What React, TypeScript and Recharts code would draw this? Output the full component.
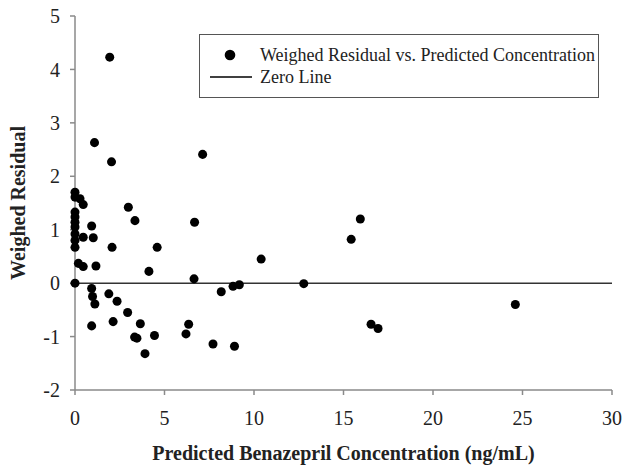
import { ScatterChart, Scatter, XAxis, YAxis, ReferenceLine, ZAxis } from 'recharts';

// predicted concentration (ng/mL) and weighed residual
const predicted = [
  1.94, 1.09, 2.04, 7.13,
  0, 0, 0.28, 0.46, 2.98, 3.35, 6.68,
  0, 0, 0, 0, 0.93, 0, 0.46, 1.02, 0, 0, 2.07, 4.59,
  0.19, 0.46, 1.17, 4.13, 6.65, 10.4, 0,
  0.93, 0.98, 1.11, 1.89, 2.35, 2.94, 0.93, 2.13, 3.65, 3.33, 3.46, 4.44, 3.91,
  6.35, 6.2, 8.17, 7.71, 8.91, 8.83, 9.18,
  12.78, 15.43, 15.94, 16.54, 16.93, 24.6,
];
const residual = [
  4.23, 2.63, 2.27, 2.41,
  1.7, 1.61, 1.58, 1.47, 1.42, 1.17, 1.14,
  1.33, 1.24, 1.14, 1.05, 1.07, 0.92, 0.86, 0.85, 0.8, 0.67, 0.67, 0.67,
  0.37, 0.31, 0.32, 0.22, 0.08, 0.45, 0,
  -0.1, -0.25, -0.39, -0.2, -0.34, -0.55, -0.8, -0.72, -0.76, -1.01, -1.03, -0.98, -1.32,
  -0.77, -0.95, -0.16, -1.14, -1.18, -0.06, -0.03,
  -0.01, 0.82, 1.2, -0.77, -0.85, -0.4,
];
const xTicks = [0, 5, 10, 15, 20, 25, 30];
const yTicks = [-2, -1, 0, 1, 2, 3, 4, 5];

const points = predicted.map((x, i) => ({ x, y: residual[i] }));

const serif = '"Liberation Serif", "Times New Roman", serif';
const axisGray = '#8a8a8a';

function LegendBox() {
  return (
    <div style={{ position: 'absolute', left: 199, top: 34, border: '1.5px solid #555', width: 400, height: 64, boxSizing: 'border-box', fontFamily: serif, fontSize: 18, color: '#222', paddingTop: 9 }}>
      <div style={{ display: 'flex', alignItems: 'center', height: 22 }}>
        <svg width={60} height={14}><circle cx={30} cy={7} r={5.3} fill="#000" /></svg>
        <span>Weighed Residual vs. Predicted Concentration</span>
      </div>
      <div style={{ display: 'flex', alignItems: 'center', height: 22 }}>
        <svg width={60} height={14}><line x1={10} x2={52} y1={7} y2={7} stroke="#000" strokeWidth={1.5} /></svg>
        <span>Zero Line</span>
      </div>
    </div>
  );
}

export default function App() {
  return (
    <div style={{ position: 'fixed', left: 0, top: 0, width: 624, height: 465, background: '#fff' }}>
      <ScatterChart width={624} height={465} margin={{ top: 16, right: 12, bottom: 0, left: 0 }}>
        <XAxis
          type="number"
          dataKey="x"
          domain={[0, 30]}
          ticks={xTicks}
          interval={0}
          height={75}
          stroke={axisGray}
          strokeWidth={1.5}
          tickSize={5}
          tickMargin={16}
          tick={{ fill: '#222', fontSize: 20, fontFamily: serif }}
          label={{ value: 'Predicted Benazepril Concentration (ng/mL)', position: 'insideBottom', offset: 5, fill: '#222', fontSize: 20, fontWeight: 'bold', fontFamily: serif }}
        />
        <YAxis
          type="number"
          dataKey="y"
          domain={[-2, 5]}
          ticks={yTicks}
          interval={0}
          width={75}
          stroke={axisGray}
          strokeWidth={1.5}
          tickSize={5}
          tickMargin={10}
          tick={{ fill: '#222', fontSize: 20, fontFamily: serif }}
          label={{ value: 'Weighed Residual', angle: -90, position: 'insideLeft', offset: 18, style: { textAnchor: 'middle' }, fill: '#222', fontSize: 20, fontWeight: 'bold', fontFamily: serif }}
        />
        <ZAxis range={[88, 88]} />
        <ReferenceLine y={0} stroke="#333" strokeWidth={1.5} />
        <Scatter name="Weighed Residual vs. Predicted Concentration" data={points} fill="#000" isAnimationActive={false} />
      </ScatterChart>
      <LegendBox />
    </div>
  );
}
